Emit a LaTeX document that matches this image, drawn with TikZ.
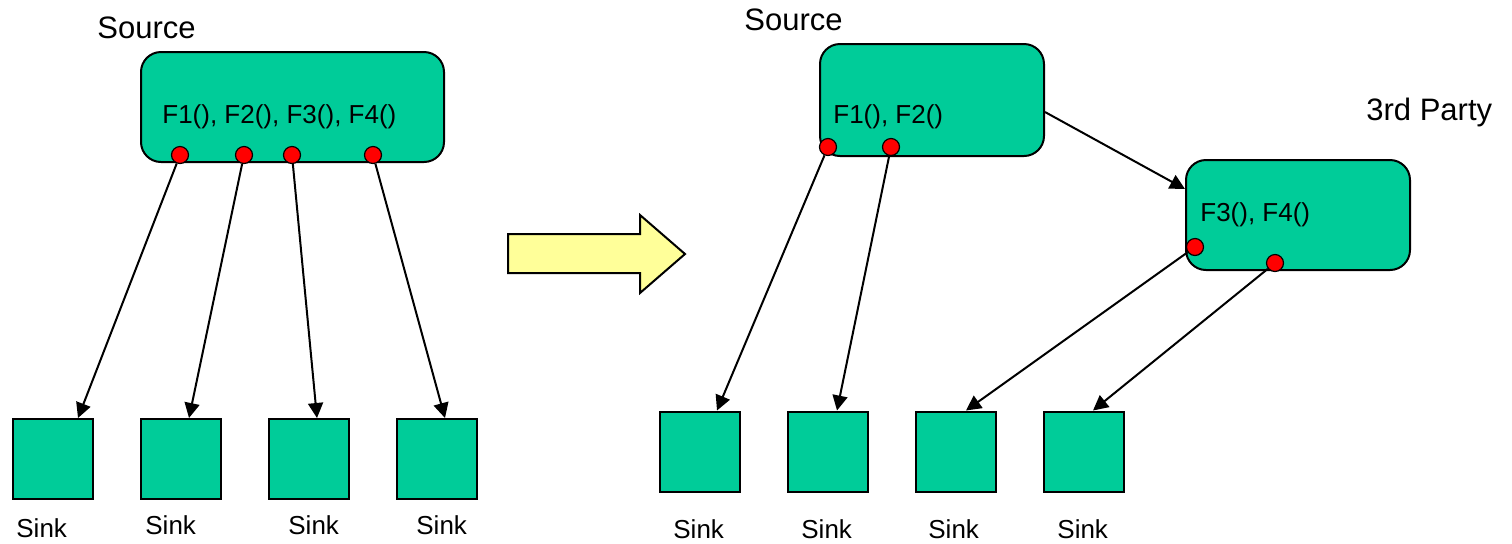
\documentclass[tikz,border=0pt]{standalone}
\usepackage{fontspec}
\setmainfont{Liberation Sans}
\usetikzlibrary{arrows.meta,calc}

\definecolor{boxgreen}{RGB}{0,204,153}
\definecolor{arrowyellow}{RGB}{255,255,153}

\tikzset{
  module/.style={draw=black, line width=1pt, fill=boxgreen, rounded corners=10pt,
    inner sep=0pt, rectangle},
  sinkbox/.style={draw=black, line width=1pt, fill=boxgreen, inner sep=0pt,
    minimum width=40pt, minimum height=40pt, rectangle},
  port/.style={circle, draw=black, line width=0.6pt, fill=red, inner sep=0pt,
    minimum size=8.5pt},
  flow/.style={line width=1pt, -{Triangle[length=7.5pt,width=7.5pt]}},
  bigtxt/.style={font=\fontsize{15.5pt}{18pt}\selectfont, inner sep=0pt, anchor=base west},
  midtxt/.style={font=\fontsize{13pt}{15pt}\selectfont, inner sep=0pt, anchor=base west},
}

\begin{document}
\begin{tikzpicture}[x=0.5pt, y=-0.5pt]
\useasboundingbox (0,0) rectangle (1512,543);

% ---------- before: one source serving every function ----------
\node[module, minimum width=151.5pt, minimum height=55pt] (lsrc) at (292.5,107) {};
\node[midtxt] (lfun) at (162,123) {F1(), F2(), F3(), F4()};
\node[bigtxt] (lsrcname) at (97,38) {Source};

\node[port] (ld1) at (180,155) {};
\node[port] (ld2) at (244,155) {};
\node[port] (ld3) at (292,155) {};
\node[port] (ld4) at (373,155) {};

\node[sinkbox] (ls1) at (53,459) {};
\node[sinkbox] (ls2) at (181,459) {};
\node[sinkbox] (ls3) at (309,459) {};
\node[sinkbox] (ls4) at (437,459) {};

\node[midtxt] (ll1) at (16,537) {Sink};
\node[midtxt] (ll2) at (145,534) {Sink};
\node[midtxt] (ll3) at (288,534) {Sink};
\node[midtxt] (ll4) at (416,534) {Sink};

\draw[flow] (ld1) -- ($(ls1.north)+(25,0)$);
\draw[flow] (ld2) -- ($(ls2.north)+(8,0)$);
\draw[flow] (ld3) -- ($(ls3.north)+(8,0)$);
\draw[flow] (ld4) -- ($(ls4.north)+(8,0)$);

% ---------- transition arrow ----------
\filldraw[fill=arrowyellow, draw=black, line width=1pt, line join=miter]
  (508,234) -- (640,234) -- (640,215) -- (685,254) -- (640,293) -- (640,273)
  -- (508,273) -- cycle;

% ---------- after: functions split with a third party ----------
\node[module, minimum width=112pt, minimum height=56pt] (rsrc) at (932,100) {};
\node[midtxt] (rfun) at (833,123) {F1(), F2()};
\node[bigtxt] (rsrcname) at (744,30) {Source};

\node[module, minimum width=112pt, minimum height=55pt] (tp) at (1298,215) {};
\node[midtxt] (tpfun) at (1200,221) {F3(), F4()};
\node[bigtxt] (tpname) at (1366,120) {3rd Party};

\node[port] (rd1) at (828,147) {};
\node[port] (rd2) at (891,147) {};
\node[port] (td1) at (1195,247) {};
\node[port] (td2) at (1275,263) {};

\node[sinkbox] (rs1) at (700,451.5) {};
\node[sinkbox] (rs2) at (828,451.5) {};
\node[sinkbox] (rs3) at (956,451.5) {};
\node[sinkbox] (rs4) at (1084,451.5) {};

\node[midtxt] (rl1) at (673,538) {Sink};
\node[midtxt] (rl2) at (801,538) {Sink};
\node[midtxt] (rl3) at (928,538) {Sink};
\node[midtxt] (rl4) at (1057,538) {Sink};

\draw[flow] ($(rsrc.east)+(0,12)$) -- ($(tp.west)+(0,-26)$);

\draw[flow] (rd1) -- ($(rs1.north)+(17,0)$);
\draw[flow] (rd2) -- ($(rs2.north)+(9,0)$);
\draw[flow] (td1) -- ($(rs3.north)+(10,0)$);
\draw[flow] (td2) -- ($(rs4.north)+(9,0)$);
\end{tikzpicture}
\end{document}
